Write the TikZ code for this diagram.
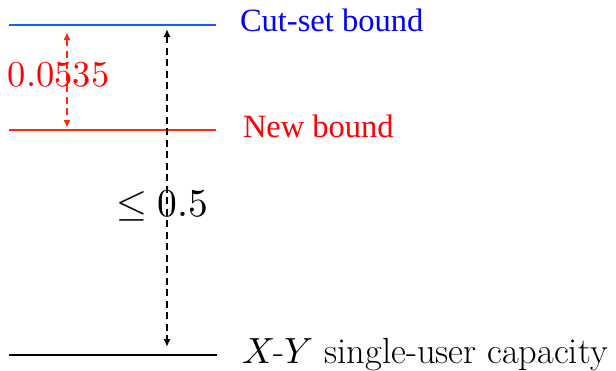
\documentclass[tikz,border=0pt]{standalone}
\usepackage{fontspec}
\usepackage{unicode-math}
\setmathfont{Latin Modern Math}
\newfontfamily\timesf{Liberation Serif}
\usetikzlibrary{arrows.meta}
\definecolor{lineblue}{RGB}{30,90,255}
\definecolor{linered}{RGB}{255,40,10}
\definecolor{txtblue}{RGB}{0,0,255}
\definecolor{txtred}{RGB}{255,0,0}
\tikzset{
  level/.style={line width=2.4pt},
  gap/.style={line width=1.8pt, dash pattern=on 7pt off 4.5pt, {Latex[length=8pt,width=7pt]}-{Latex[length=8pt,width=7pt]}},
  lbl/.style={anchor=base west, inner sep=0pt, outer sep=0pt},
  tlbl/.style={lbl, font=\timesf\fontsize{32.5}{38}\selectfont}
}
\begin{document}
\begin{tikzpicture}[x=1pt,y=-1pt]
\useasboundingbox (0,0) rectangle (616,370);
% level lines
\coordinate (b1) at (9,25);  \coordinate (b2) at (216,25);
\coordinate (r1) at (9,130); \coordinate (r2) at (216,130);
\coordinate (k1) at (9,355); \coordinate (k2) at (217,355);
\draw[level, lineblue] (b1) -- (b2);
\draw[level, linered] (r1) -- (r2);
\draw[level, black] (k1) -- (k2);
% arrow end points
\coordinate (ra) at (67,32);  \coordinate (rb) at (67,128);
\coordinate (ka) at (167,29); \coordinate (kb) at (167,347);
\draw[gap, linered] (ra) -- (rb);
\draw[gap, black] (ka) -- (kb);
% labels
\node[tlbl, text=txtblue] (cut) at (240,31) {Cut-set bound};
\node[tlbl, text=txtred] (new) at (243,137) {New bound};
\node[lbl, text=txtred, font=\fontsize{36.5}{42}\selectfont] (d1) at (8,86) {$0.0535$};
\node[lbl, font=\fontsize{39.5}{46}\selectfont] (d2) at (116,216) {$\le 0.5$};
\node[lbl, font=\fontsize{36.4}{42}\selectfont] (xy) at (242,363) {$X$-$Y$ single-user capacity};
\end{tikzpicture}
\end{document}
